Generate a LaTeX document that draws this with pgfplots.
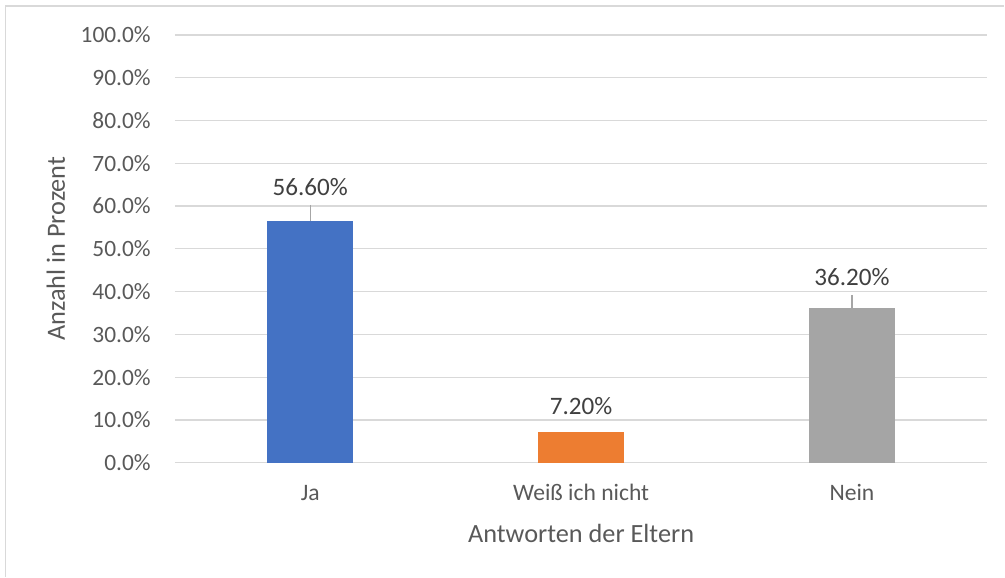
\documentclass[border=0pt]{standalone}
\usepackage{fontspec}
\setmainfont{Carlito}
\usepackage{pgfplots}
\pgfplotsset{compat=1.18}
\definecolor{gridgray}{HTML}{D9D9D9}
\definecolor{txtgray}{HTML}{595959}
\definecolor{lblgray}{HTML}{404040}
\definecolor{leader}{HTML}{A6A6A6}
\definecolor{cblue}{HTML}{4472C4}
\definecolor{corange}{HTML}{ED7D31}
\definecolor{cgray}{HTML}{A5A5A5}
\begin{document}
\begin{tikzpicture}
\path (0,0) rectangle (1005bp,577bp);
\draw[gridgray, line width=1.3bp] (5.5bp,0) -- (5.5bp,571bp) -- (1005bp,571bp);
\begin{axis}[
  at={(175bp,114bp)}, anchor=south west,
  scale only axis, width=813bp, height=428bp,
  xmin=-0.5, xmax=2.5, ymin=0, ymax=100,
  axis line style={draw=none},
  major tick length=0pt,
  ymajorgrids, grid style={gridgray, line width=1.3bp},
  ytick={0,10,...,100},
  yticklabels={0.0\%,10.0\%,20.0\%,30.0\%,40.0\%,50.0\%,60.0\%,70.0\%,80.0\%,90.0\%,100.0\%},
  yticklabel style={font=\fontsize{23.5}{28}\selectfont, text=txtgray, inner sep=0pt, anchor=east, xshift=-24bp},
  xtick={0,1,2},
  xticklabels={Ja,Weiß ich nicht,Nein},
  xticklabel style={font=\fontsize{23.7}{28}\selectfont, text=txtgray, inner sep=0pt, anchor=base, yshift=-38bp},
  xlabel={Antworten der Eltern},
  xlabel style={font=\fontsize{26.4}{30}\selectfont, text=txtgray, inner sep=0pt, at={(axis description cs:0.5,0)}, anchor=base, yshift=-80bp},
  ylabel={Anzahl in Prozent},
  ylabel style={font=\fontsize{26.4}{30}\selectfont, text=txtgray, inner sep=0pt, at={(axis description cs:0,0.5)}, anchor=base, yshift=110bp},
  clip=false,
]
\addplot[ybar, bar width=86bp, fill=cblue, draw=none] coordinates {(0,56.6)};
\addplot[ybar, bar width=86bp, fill=corange, draw=none] coordinates {(1,7.2)};
\addplot[ybar, bar width=86bp, fill=cgray, draw=none] coordinates {(2,36.2)};
\draw[leader, line width=1.3bp] (axis cs:0,60.3) -- (axis cs:0,56.6);
\draw[leader, line width=1.3bp] (axis cs:2,39.25) -- (axis cs:2,36.2);
\node[font=\fontsize{25.2}{30}\selectfont, text=lblgray, inner sep=0pt, anchor=base] at (axis cs:0,62.4) {56.60\%};
\node[font=\fontsize{25.2}{30}\selectfont, text=lblgray, inner sep=0pt, anchor=base] at (axis cs:1,11.2) {7.20\%};
\node[font=\fontsize{25.2}{30}\selectfont, text=lblgray, inner sep=0pt, anchor=base] at (axis cs:2,41.4) {36.20\%};
\end{axis}
\end{tikzpicture}
\end{document}
